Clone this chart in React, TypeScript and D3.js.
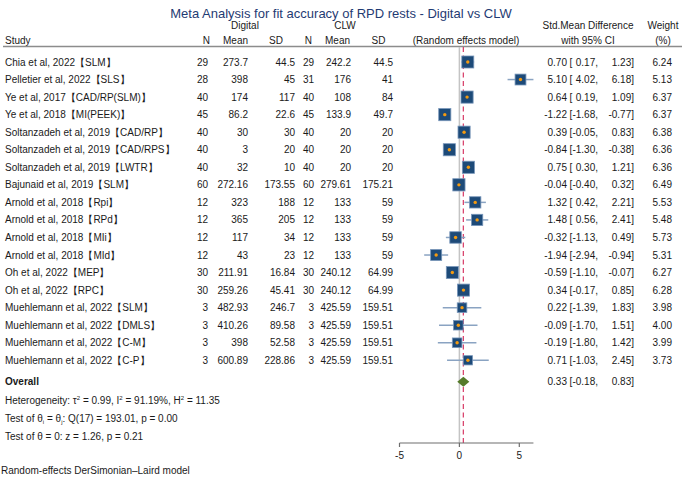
import React from "react";
import * as d3 from "d3";

const studies = [
  "Chia et al, 2022【SLM】",
  "Pelletier et al, 2022【SLS】",
  "Ye et al, 2017【CAD/RP(SLM)】",
  "Ye et al,  2018【MI(PEEK)】",
  "Soltanzadeh et al, 2019【CAD/RP】",
  "Soltanzadeh et al, 2019【CAD/RPS】",
  "Soltanzadeh et al, 2019【LWTR】",
  "Bajunaid et al, 2019【SLM】",
  "Arnold et al, 2018【Rpi】",
  "Arnold et al, 2018【RPd】",
  "Arnold et al, 2018【MIi】",
  "Arnold et al, 2018【MId】",
  "Oh et al, 2022【MEP】",
  "Oh et al, 2022【RPC】",
  "Muehlemann et al, 2022【SLM】",
  "Muehlemann et al, 2022【DMLS】",
  "Muehlemann et al, 2022【C-M】",
  "Muehlemann et al, 2022【C-P】",
];
const n1 = [29, 28, 40, 45, 40, 40, 40, 60, 12, 12, 12, 12, 30, 30, 3, 3, 3, 3];
const mean1 = [273.7, 398, 174, 86.2, 30, 3, 32, 272.16, 323, 365, 117, 43, 211.91, 259.26, 482.93, 410.26, 398, 600.89];
const sd1 = [44.5, 45, 117, 22.6, 30, 20, 10, 173.55, 188, 205, 34, 23, 16.84, 45.41, 246.7, 89.58, 52.58, 228.86];
const n2 = [29, 31, 40, 45, 40, 40, 40, 60, 12, 12, 12, 12, 30, 30, 3, 3, 3, 3];
const mean2 = [242.2, 176, 108, 133.9, 20, 20, 20, 279.61, 133, 133, 133, 133, 240.12, 240.12, 425.59, 425.59, 425.59, 425.59];
const sd2 = [44.5, 41, 84, 49.7, 20, 20, 20, 175.21, 59, 59, 59, 59, 64.99, 64.99, 159.51, 159.51, 159.51, 159.51];
const smd = [0.70, 5.10, 0.64, -1.22, 0.39, -0.84, 0.75, -0.04, 1.32, 1.48, -0.32, -1.94, -0.59, 0.34, 0.22, -0.09, -0.19, 0.71];
const lo = [0.17, 4.02, 0.19, -1.68, -0.05, -1.30, 0.30, -0.40, 0.42, 0.56, -1.13, -2.94, -1.10, -0.17, -1.39, -1.70, -1.80, -1.03];
const hi = [1.23, 6.18, 1.09, -0.77, 0.83, -0.38, 1.21, 0.32, 2.21, 2.41, 0.49, -0.94, -0.07, 0.85, 1.83, 1.51, 1.42, 2.45];
const weight = [6.24, 5.13, 6.37, 6.37, 6.38, 6.36, 6.36, 6.49, 5.53, 5.48, 5.73, 5.31, 6.27, 6.28, 3.98, 4.00, 3.99, 3.73];
const overall = { est: 0.33, lo: -0.18, hi: 0.83 };
const xTicks = [-5, 0, 5];

const FONT = "'Liberation Sans', Arial, Helvetica, sans-serif";
const TXT = "#1a1a1a";

export default function App() {
  const x = d3.scaleLinear().domain([-5, 5]).range([399.5, 519.3]);
  const y = d3.scaleLinear().domain([0, studies.length - 1]).range([62, 360.3]);
  const size = d3.scaleSqrt().domain([0, 6.24]).range([0, 12]);
  const yOverall = 381.8;
  const axisY = 443;
  const lineTop = 47;
  const f2 = (v: number) => v.toFixed(2);

  const ciText = (e: number, l: number, h: number, yy: number, key: string) => (
    <g key={key}>
      <text x={567} y={yy} dy="0.35em" textAnchor="end">{f2(e)}</text>
      <text x={569.5} y={yy} dy="0.35em">[</text>
      <text x={598} y={yy} dy="0.35em" textAnchor="end">{f2(l) + ","}</text>
      <text x={634} y={yy} dy="0.35em" textAnchor="end">{f2(h) + "]"}</text>
    </g>
  );

  return (
    <svg width={685} height={477} style={{ position: "absolute", left: 0, top: 0, background: "#fff" }}
      fontFamily={FONT} fontSize={10} fill={TXT}>
      <rect width={685} height={477} fill="#fff" />
      <text x={341} y={13} dy="0.35em" textAnchor="middle" fontSize={13} fill="#1f3b73">
        Meta Analysis for fit accuracy of RPD rests - Digital vs CLW
      </text>

      {/* headers */}
      <text x={245} y={25} dy="0.35em" textAnchor="middle">Digital</text>
      <text x={345} y={25} dy="0.35em" textAnchor="middle">CLW</text>
      <text x={588} y={25} dy="0.35em" textAnchor="middle">Std.Mean Difference</text>
      <text x={663} y={25} dy="0.35em" textAnchor="middle">Weight</text>
      <text x={5} y={40} dy="0.35em">Study</text>
      <text x={210} y={40} dy="0.35em" textAnchor="end">N</text>
      <text x={248} y={40} dy="0.35em" textAnchor="end">Mean</text>
      <text x={276} y={40} dy="0.35em" textAnchor="middle">SD</text>
      <text x={312} y={40} dy="0.35em" textAnchor="end">N</text>
      <text x={350} y={40} dy="0.35em" textAnchor="end">Mean</text>
      <text x={378.5} y={40} dy="0.35em" textAnchor="middle">SD</text>
      <text x={466} y={40} dy="0.35em" textAnchor="middle">(Random effects model)</text>
      <text x={588} y={40} dy="0.35em" textAnchor="middle">with 95% CI</text>
      <text x={663} y={40} dy="0.35em" textAnchor="middle">(%)</text>
      <line x1={3} x2={682} y1={46.5} y2={46.5} stroke="#8c8c8c" strokeWidth={1.5} />

      {/* reference lines */}
      <line x1={x(0)} x2={x(0)} y1={lineTop} y2={axisY} stroke="#c4c4c4" strokeWidth={1.5} />
      <line x1={x(overall.est)} x2={x(overall.est)} y1={lineTop} y2={axisY} stroke="#d9466f" strokeWidth={1.3} strokeDasharray="5,3.5" />

      {studies.map((s, i) => {
        const yy = y(i);
        const sz = size(weight[i]);
        return (
          <g key={s}>
            <text x={5} y={yy} dy="0.35em">{s}</text>
            <text x={208} y={yy} dy="0.35em" textAnchor="end">{String(n1[i])}</text>
            <text x={248} y={yy} dy="0.35em" textAnchor="end">{String(mean1[i])}</text>
            <text x={295} y={yy} dy="0.35em" textAnchor="end">{String(sd1[i])}</text>
            <text x={314} y={yy} dy="0.35em" textAnchor="end">{String(n2[i])}</text>
            <text x={351} y={yy} dy="0.35em" textAnchor="end">{String(mean2[i])}</text>
            <text x={393} y={yy} dy="0.35em" textAnchor="end">{String(sd2[i])}</text>
            <line x1={x(lo[i])} x2={x(hi[i])} y1={yy} y2={yy} stroke="#8aa3c2" strokeWidth={1.5} />
            <rect x={x(smd[i]) - sz / 2} y={yy - sz / 2} width={sz} height={sz}
              fill="#1d4a78" stroke="#7896ba" strokeWidth={0.8} />
            <circle cx={x(smd[i])} cy={yy} r={1.7} fill="#f39a10" />
            {ciText(smd[i], lo[i], hi[i], yy, "ci" + i)}
            <text x={672} y={yy} dy="0.35em" textAnchor="end">{f2(weight[i])}</text>
          </g>
        );
      })}

      {/* overall */}
      <text x={5} y={yOverall} dy="0.35em" fontWeight="bold">Overall</text>
      <path d={`M${x(overall.lo)},${yOverall} L${x(overall.est)},${yOverall - 5} L${x(overall.hi)},${yOverall} L${x(overall.est)},${yOverall + 5} Z`}
        fill="#557a2a" />
      {ciText(overall.est, overall.lo, overall.hi, yOverall, "ov")}

      <text x={5} y={400} dy="0.35em">Heterogeneity: τ<tspan fontSize={6} dy="-4">2</tspan><tspan dy="4"> = 0.99, I</tspan><tspan fontSize={6} dy="-4">2</tspan><tspan dy="4"> = 91.19%, H</tspan><tspan fontSize={6} dy="-4">2</tspan><tspan dy="4"> = 11.35</tspan></text>
      <text x={5} y={418} dy="0.35em">Test of θ<tspan fontSize={6} dy="2">i</tspan><tspan dy="-2"> = θ</tspan><tspan fontSize={6} dy="2">j</tspan><tspan dy="-2">: Q(17) = 193.01, p = 0.00</tspan></text>
      <text x={5} y={436} dy="0.35em">Test of θ = 0: z = 1.26, p = 0.21</text>
      <text x={1} y={470} dy="0.35em" fontSize={10}>Random-effects DerSimonian–Laird model</text>

      {/* axis */}
      <line x1={x(-5)} x2={x(6.18)} y1={axisY} y2={axisY} stroke="#6e6e6e" strokeWidth={1.2} />
      {xTicks.map((t) => (
        <g key={t}>
          <line x1={x(t)} x2={x(t)} y1={axisY} y2={axisY + 4} stroke="#6e6e6e" strokeWidth={1.2} />
          <text x={x(t)} y={axisY + 12} dy="0.35em" textAnchor="middle">{String(t)}</text>
        </g>
      ))}
    </svg>
  );
}
